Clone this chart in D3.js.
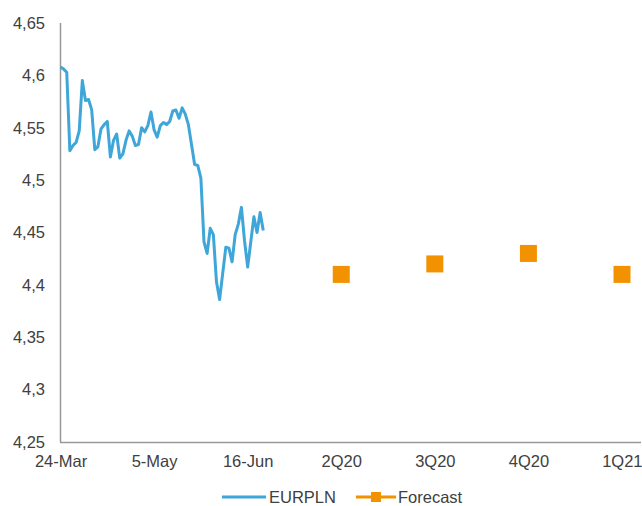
<!DOCTYPE html>
<html>
<head>
<meta charset="utf-8">
<script src="https://cdn.jsdelivr.net/npm/d3@7/dist/d3.min.js"></script>
<style>
  html, body { margin: 0; padding: 0; background: #fff; }
  svg { display: block; font-family: "Liberation Sans", Arial, sans-serif; }
</style>
</head>
<body>
<svg id="chart" width="642" height="506"></svg>
<script>
// ---- data ----
const categoryLabels = ["24-Mar", "5-May", "16-Jun", "2Q20", "3Q20", "4Q20", "1Q21"];
const categoryIndex  = [0, 30, 60, 90, 120, 150, 180];
const eurplnValues = [
  4.608, 4.606, 4.603, 4.528, 4.533, 4.536, 4.547, 4.595, 4.576, 4.577,
  4.567, 4.529, 4.532, 4.549, 4.553, 4.556, 4.522, 4.538, 4.544, 4.521,
  4.525, 4.538, 4.547, 4.542, 4.533, 4.534, 4.550, 4.546, 4.552, 4.565,
  4.548, 4.541, 4.552, 4.555, 4.553, 4.556, 4.566, 4.567, 4.559, 4.569,
  4.563, 4.553, 4.534, 4.515, 4.514, 4.502, 4.441, 4.430, 4.454, 4.448,
  4.403, 4.386, 4.411, 4.436, 4.435, 4.422, 4.448, 4.458, 4.474, 4.442,
  4.417, 4.441, 4.465, 4.450, 4.469, 4.452
];
const forecastLabels = ["2Q20", "3Q20", "4Q20", "1Q21"];
const forecastValues = [4.41, 4.42, 4.43, 4.41];
const yTicks = [4.25, 4.3, 4.35, 4.4, 4.45, 4.5, 4.55, 4.6, 4.65];

// ---- layout ----
(function () {
const svg = d3.select("#chart");
const mLeft = 60, mRight = 622, mTop = 23, mBottom = 442;
const fontSize = "16.5px";
const x = d3.scaleLinear().domain([0, 180]).range([60.5, mRight]);
const y = d3.scaleLinear().domain([4.25, 4.65]).range([mBottom, mTop]);
const fmt = v => d3.format(".2~f")(v).replace(".", ",");
const textColor = "#404040";

// y axis
const yAxis = svg.append("g").attr("transform", `translate(${mLeft},0)`)
  .call(d3.axisLeft(y).tickValues(yTicks).tickFormat(fmt).tickSize(0).tickPadding(15));
yAxis.select(".domain").attr("stroke", "#999").attr("stroke-width", 1.5).attr("d", `M0.5,${mTop}V${mBottom}`);
yAxis.selectAll("text").attr("fill", textColor).style("font-size", fontSize)
  .style("font-family", '"Liberation Sans", Arial, sans-serif');

// x axis
const labelMap = new Map(categoryIndex.map((c, i) => [c, categoryLabels[i]]));
const xAxis = svg.append("g").attr("transform", `translate(0,${mBottom})`)
  .call(d3.axisBottom(x).tickValues(categoryIndex).tickFormat(d => labelMap.get(d)).tickSize(0).tickPadding(13));
xAxis.select(".domain").attr("stroke", "#999").attr("stroke-width", 1.5).attr("d", `M${mLeft},0.5H641`);
xAxis.selectAll("text").attr("fill", textColor).style("font-size", fontSize)
  .style("font-family", '"Liberation Sans", Arial, sans-serif');
// keep last label inside the frame
xAxis.selectAll(".tick:last-of-type text").attr("text-anchor", "end").attr("dx", "20px");

// EURPLN line
const line = d3.line().x((d, i) => x(i)).y(d => y(d));
svg.append("path").datum(eurplnValues)
  .attr("fill", "none").attr("stroke", "#3ea6d8").attr("stroke-width", 3)
  .attr("stroke-linejoin", "round").attr("d", line);

// Forecast squares
const fIdx = forecastLabels.map(l => categoryIndex[categoryLabels.indexOf(l)]);
const sq = 17;
svg.append("g").selectAll("rect").data(forecastValues).join("rect")
  .attr("x", (d, i) => x(fIdx[i]) - sq / 2)
  .attr("y", d => y(d) - sq / 2)
  .attr("width", sq).attr("height", sq)
  .attr("fill", "#f39200");

// legend
const lg = svg.append("g").attr("transform", "translate(0,497)");
lg.append("line").attr("x1", 222).attr("x2", 266).attr("y1", 0).attr("y2", 0)
  .attr("stroke", "#3ea6d8").attr("stroke-width", 3);
lg.append("text").attr("x", 269).attr("y", 6).text("EURPLN")
  .attr("fill", textColor).style("font-size", fontSize);
lg.append("line").attr("x1", 356).attr("x2", 396).attr("y1", 0).attr("y2", 0)
  .attr("stroke", "#f39200").attr("stroke-width", 3);
lg.append("rect").attr("x", 371).attr("y", -5).attr("width", 10).attr("height", 10).attr("fill", "#f39200");
lg.append("text").attr("x", 398).attr("y", 6).text("Forecast")
  .attr("fill", textColor).style("font-size", fontSize);
})();
</script>
</body>
</html>
